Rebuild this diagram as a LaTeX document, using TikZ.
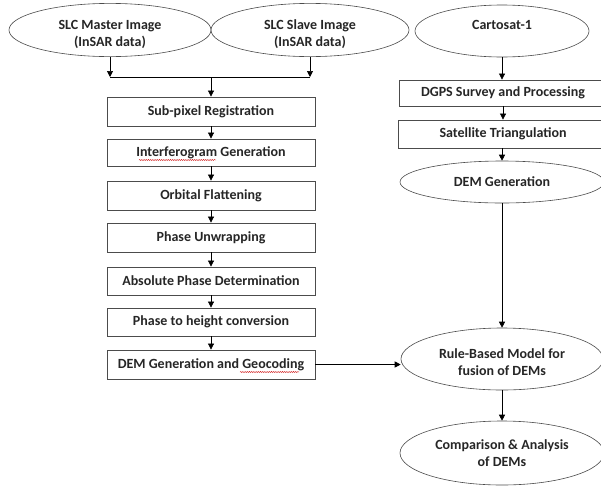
\documentclass[tikz,border=0pt]{standalone}
\usepackage{fontspec}
\setmainfont{Carlito}
\usetikzlibrary{shapes.geometric,arrows.meta,decorations.pathmorphing}
\begin{document}
\begin{tikzpicture}[x=1pt,y=-1pt,
  txt/.style={font=\bfseries\fontsize{14}{17.5}\selectfont, text=black!85, align=center},
  ell/.style={txt, draw=black!70, line width=0.6pt, ellipse, inner sep=0pt},
  box/.style={txt, draw=black!70, line width=0.8pt, rectangle, inner sep=0pt, minimum width=208pt},
  arr/.style={-{Triangle[length=6pt,width=6pt]}, line width=0.7pt, black},
  ln/.style={line width=0.7pt, black},
  squig/.style={red!80!black, line width=0.4pt, decorate, decoration={snake, amplitude=0.5pt, segment length=2.2pt}}]
\useasboundingbox (0,0) rectangle (601,485);
\fill[white] (0,0) rectangle (601,485);
\clip (0,0) rectangle (601,485);

% top ellipses
\node[ell, minimum width=202pt, minimum height=50pt] (m) at (110,30) {\rule{0pt}{18pt}SLC Master Image\\(InSAR data)};
\node[ell, minimum width=198pt, minimum height=50pt] (s) at (310,30) {\rule{0pt}{18pt}SLC Slave Image\\(InSAR data)};
\node[ell, minimum width=174pt, minimum height=52pt] (c) at (502,31) {\rule[-13pt]{0pt}{1pt}Cartosat-1};

% left column
\node[box, minimum height=29pt] (b1) at (211,111.5) {Sub-pixel Registration};
\node[box, minimum height=27pt] (b2) at (211,152.5) {Interferogram Generation};
\node[box, minimum height=29pt] (b3) at (211,195.5) {Orbital Flattening};
\node[box, minimum height=29pt] (b4) at (211,237.5) {Phase Unwrapping};
\node[box, minimum height=28pt] (b5) at (211,281) {Absolute Phase Determination};
\node[box, minimum height=28pt] (b6) at (211,322) {Phase to height conversion};
\node[box, minimum height=29pt] (b7) at (211,364.5) {DEM Generation and Geocoding};

% right column
\node[box, minimum width=208pt, minimum height=26pt] (d1) at (503,93) {DGPS Survey and Processing};
\node[box, minimum width=210pt, minimum height=28pt] (d2) at (503,134) {Satellite Triangulation};
\node[ell, minimum width=204pt, minimum height=42pt] (dem) at (502,182) {DEM Generation};
\node[ell, minimum width=202pt, minimum height=62pt] (rule) at (502,359) {\rule{0pt}{16pt}Rule-Based Model for\\fusion of DEMs};
\node[ell, minimum width=204pt, minimum height=64pt] (comp) at (502,453) {Comparison \& Analysis\\of DEMs};

% spell-check marks
\draw[squig] ([shift={(-72,7.5)}]b2.center) -- ([shift={(5,7.5)}]b2.center);
\draw[squig] ([shift={(29,7.5)}]b7.center) -- ([shift={(88,7.5)}]b7.center);

% connectors
\coordinate (j) at (211,77);
\draw[arr] (m.south) -- (m.south |- j);
\draw[arr] (s.south) -- (s.south |- j);
\draw[ln] (m.south |- j) -- (s.south |- j);
\draw[arr] (j) -- (b1.north);
\draw[arr] (b1) -- (b2);
\draw[arr] (b2) -- (b3);
\draw[arr] (b3) -- (b4);
\draw[arr] (b4) -- (b5);
\draw[arr] (b5) -- (b6);
\draw[arr] (b6) -- (b7);
\draw[arr] (c.south) -- (c.south |- d1.north);
\draw[arr] (d1) -- (d2);
\draw[arr] (d2.south) -- (d2.south -| dem.north) -- (dem.north);
\draw[arr] (dem) -- (rule);
\draw[arr] (rule) -- (comp);
\draw[arr] (b7.east) -- (b7.east -| rule.west);
\end{tikzpicture}
\end{document}
